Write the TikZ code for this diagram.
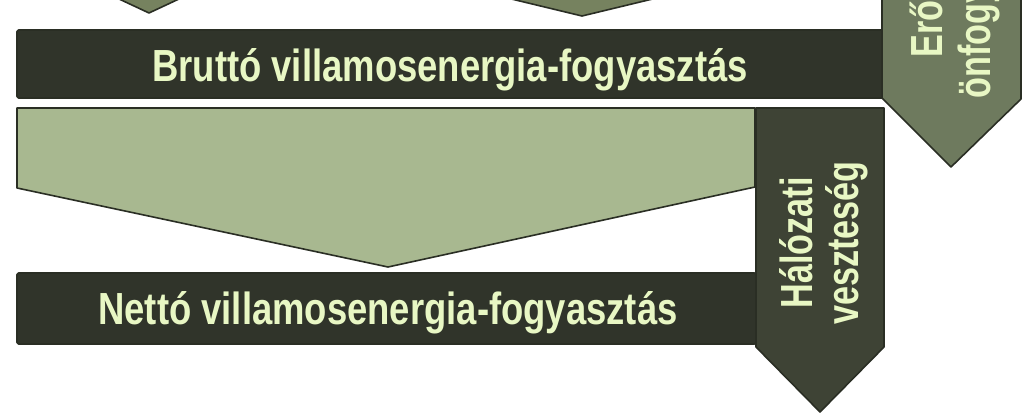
\documentclass[tikz,border=0pt]{standalone}
\usepackage{fontspec}
\newfontfamily\lab{Liberation Sans}[FakeStretch=0.81]
\newfontfamily\vlab{Liberation Sans}[FakeStretch=0.76]
\definecolor{barDark}{HTML}{30342A}
\definecolor{arrDark}{HTML}{3E4335}
\definecolor{arrMid}{HTML}{6E7A5E}
\definecolor{topMid}{HTML}{76825F}
\definecolor{lightGreen}{HTML}{A8B890}
\definecolor{edgeDark}{HTML}{2A2E24}
\definecolor{txt}{HTML}{E8F7C4}
\begin{document}
\begin{tikzpicture}[x=1pt,y=-1pt,
  shp/.style={draw=edgeDark,line width=1.6pt,line join=round},
  bar/.style={shp,fill=barDark,rounded corners=1.5pt},
  lbl/.style={text=txt,font=\lab\bfseries\fontsize{45}{49}\selectfont,inner sep=0pt,anchor=base},
  vlbl/.style={lbl,font=\vlab\bfseries\fontsize{45}{49}\selectfont,rotate=90}]
\useasboundingbox (0,0) rectangle (1024,415);
\fill[white] (0,0) rectangle (1024,415);
\clip (0,0) rectangle (1024,415);
% top partial shapes
\path[shp,fill=topMid] (102,-40) -- (102,-9) -- (149,13) -- (196,-9) -- (196,-40) -- cycle;
\path[shp,fill=topMid] (470,-40) -- (470,-11) -- (582,16) -- (694,-11) -- (694,-40) -- cycle;
% lower part
\path[shp,fill=lightGreen] (17,108) -- (755,108) -- (755,187) -- (388,267) -- (17,188) -- cycle;
\path[bar] (17,273) rectangle (756,344);
\path[shp,fill=arrDark] (756,108) -- (884,108) -- (884,347) -- (820,412) -- (756,347) -- cycle;
% upper part
\path[bar] (17,30) rectangle (884,98);
\path[shp,fill=arrMid] (882,-250) -- (882,98) -- (951,167) -- (1021,99) -- (1021,-250) -- cycle;
% labels
\node[lbl] (brutto) at (450,81) {Bruttó villamosenergia-fogyasztás};
\node[lbl] (netto) at (388,324) {Nettó villamosenergia-fogyasztás};
\node[vlbl] (halo1) at (812,243) {Hálózati};
\node[vlbl] (halo2) at (858,243) {veszteség};
\node[vlbl] (ero1) at (942,-11) {Erőművi};
\node[vlbl] (ero2) at (990,-11) {önfogyasztás};
\end{tikzpicture}
\end{document}
